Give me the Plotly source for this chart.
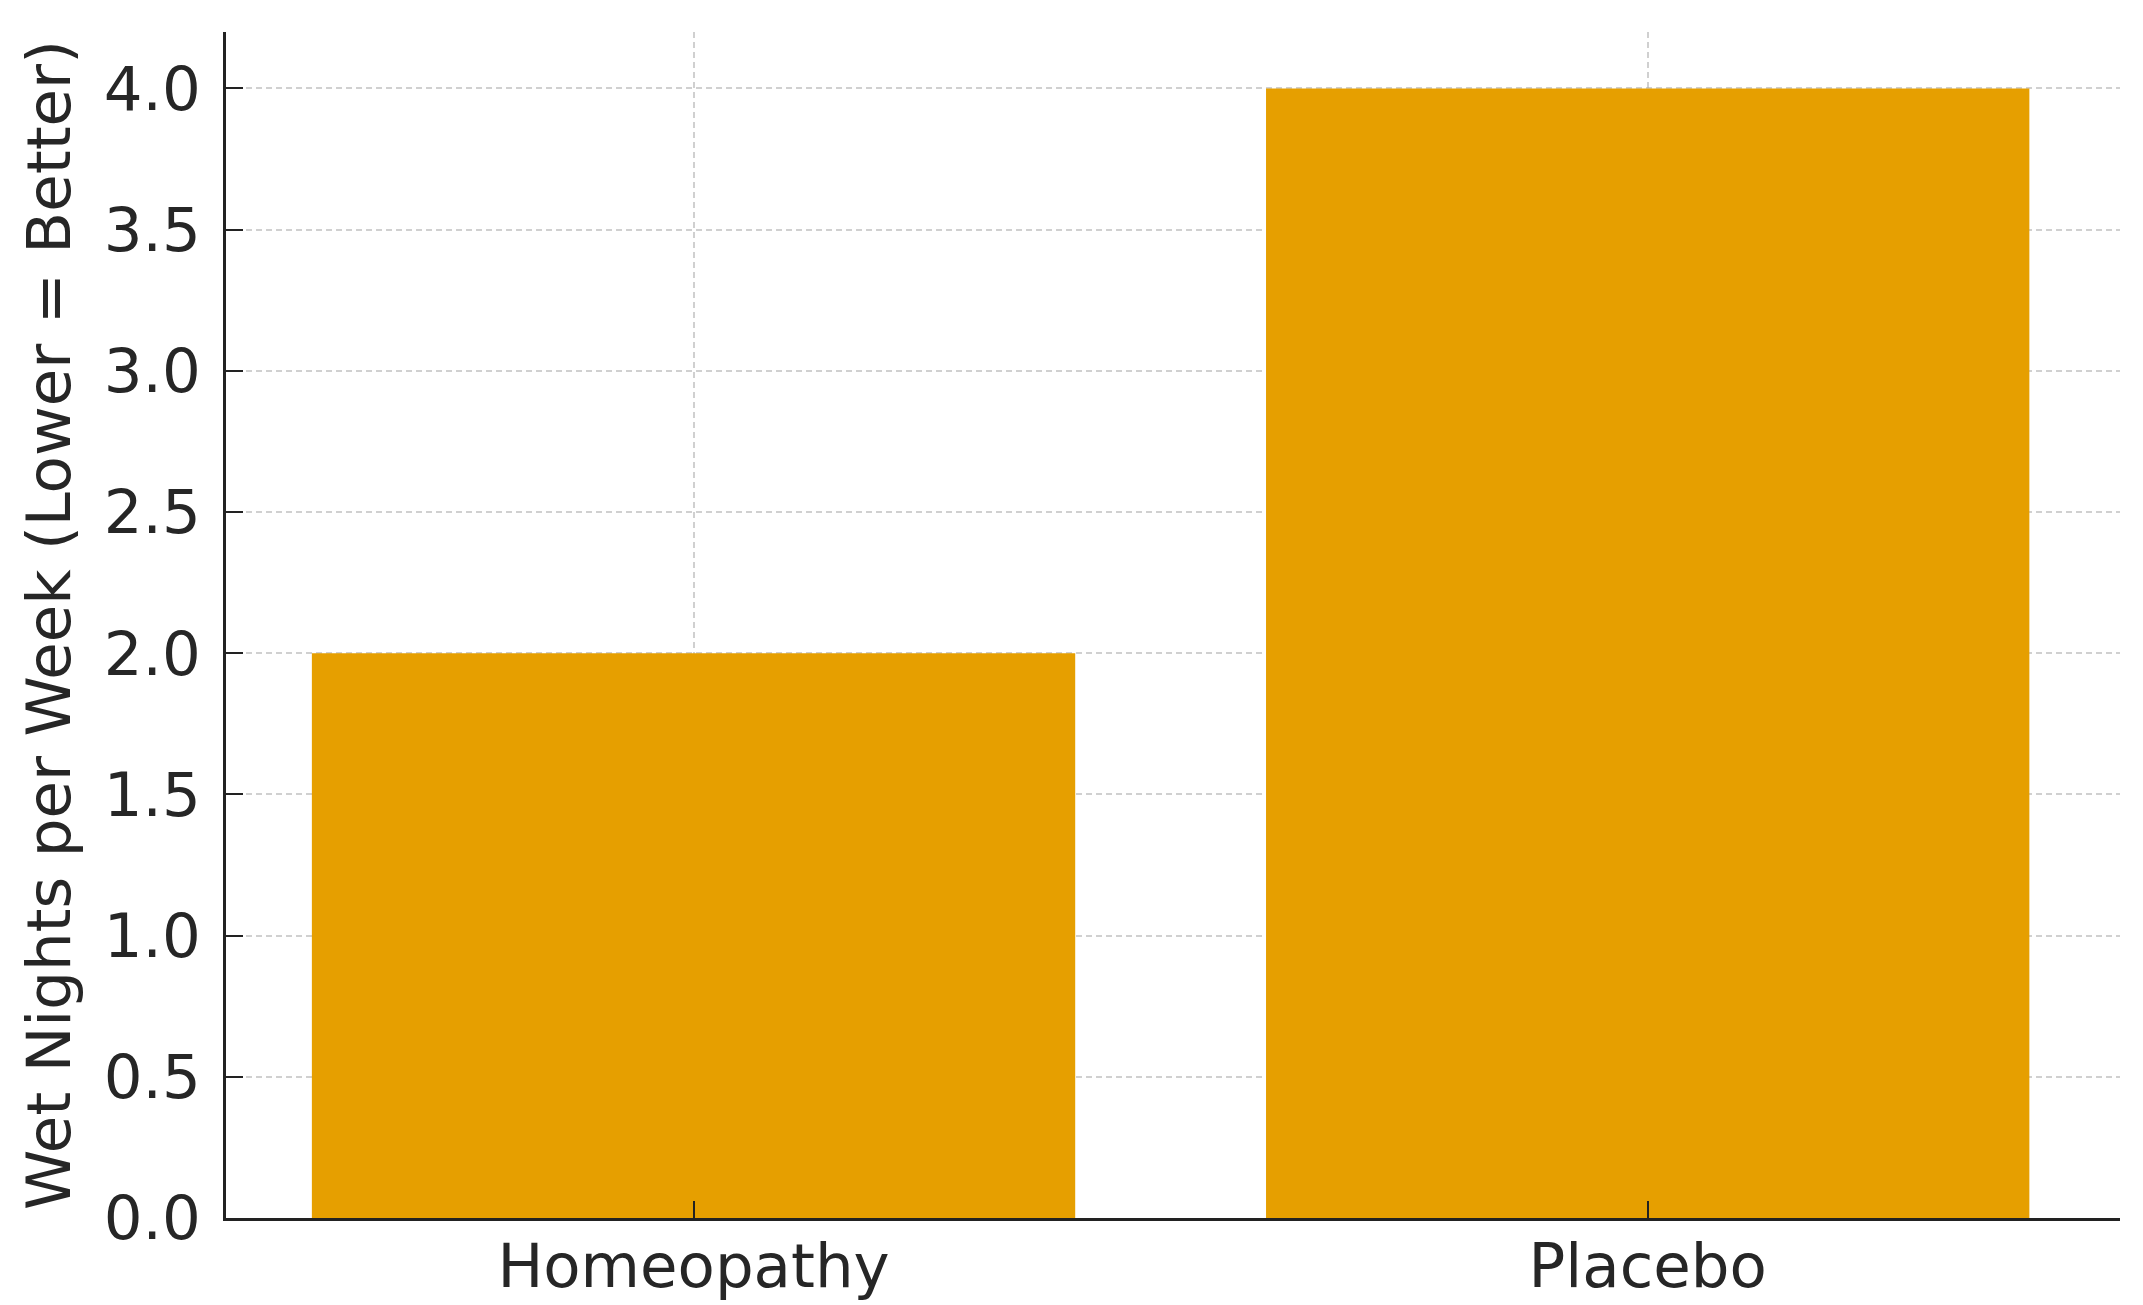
import plotly.graph_objects as go

categories = ["Homeopathy", "Placebo"]
wet_nights = [2.0, 4.0]
y_ticks = [0.0, 0.5, 1.0, 1.5, 2.0, 2.5, 3.0, 3.5, 4.0]
y_tick_labels = ["0.0", "0.5", "1.0", "1.5", "2.0", "2.5", "3.0", "3.5", "4.0"]

fig = go.Figure()
fig.add_trace(go.Bar(
    x=categories, y=wet_nights, width=0.8,
    marker=dict(color="#E69F00", line=dict(width=0)),
))

font = dict(family="DejaVu Sans", size=61, color="#262626")
# the page adds an 8px body margin, so the figure is sized to fit the window
fig.update_layout(
    width=2135, height=1297,
    margin=dict(l=218, r=23, t=24, b=87),
    plot_bgcolor="white", paper_bgcolor="white",
    showlegend=False, font=font, bargap=0.2,
)
fig.update_xaxes(
    type="category", range=[-0.49, 1.495], automargin=False,
    showline=True, linecolor="#222222", linewidth=3,
    ticks="inside", ticklen=17, tickwidth=2, tickcolor="#222222",
    showgrid=True, gridcolor="rgba(170,170,170,0.55)", gridwidth=1.5, griddash="6px,4px",
    layer="above traces", ticklabelstandoff=-7,
    tickfont=font,
)
fig.update_yaxes(
    range=[0, 4.2], tickvals=y_ticks, ticktext=y_tick_labels, automargin=False,
    showline=True, linecolor="#222222", linewidth=3,
    ticks="inside", ticklen=17, tickwidth=2, tickcolor="#222222",
    showgrid=True, gridcolor="rgba(170,170,170,0.55)", gridwidth=1.5, griddash="6px,4px",
    layer="above traces", zeroline=False, ticklabelstandoff=10,
    tickfont=font,
    title=dict(text="Wet Nights per Week (Lower = Better)", font=font, standoff=14),
)

fig.write_html("out.html")
